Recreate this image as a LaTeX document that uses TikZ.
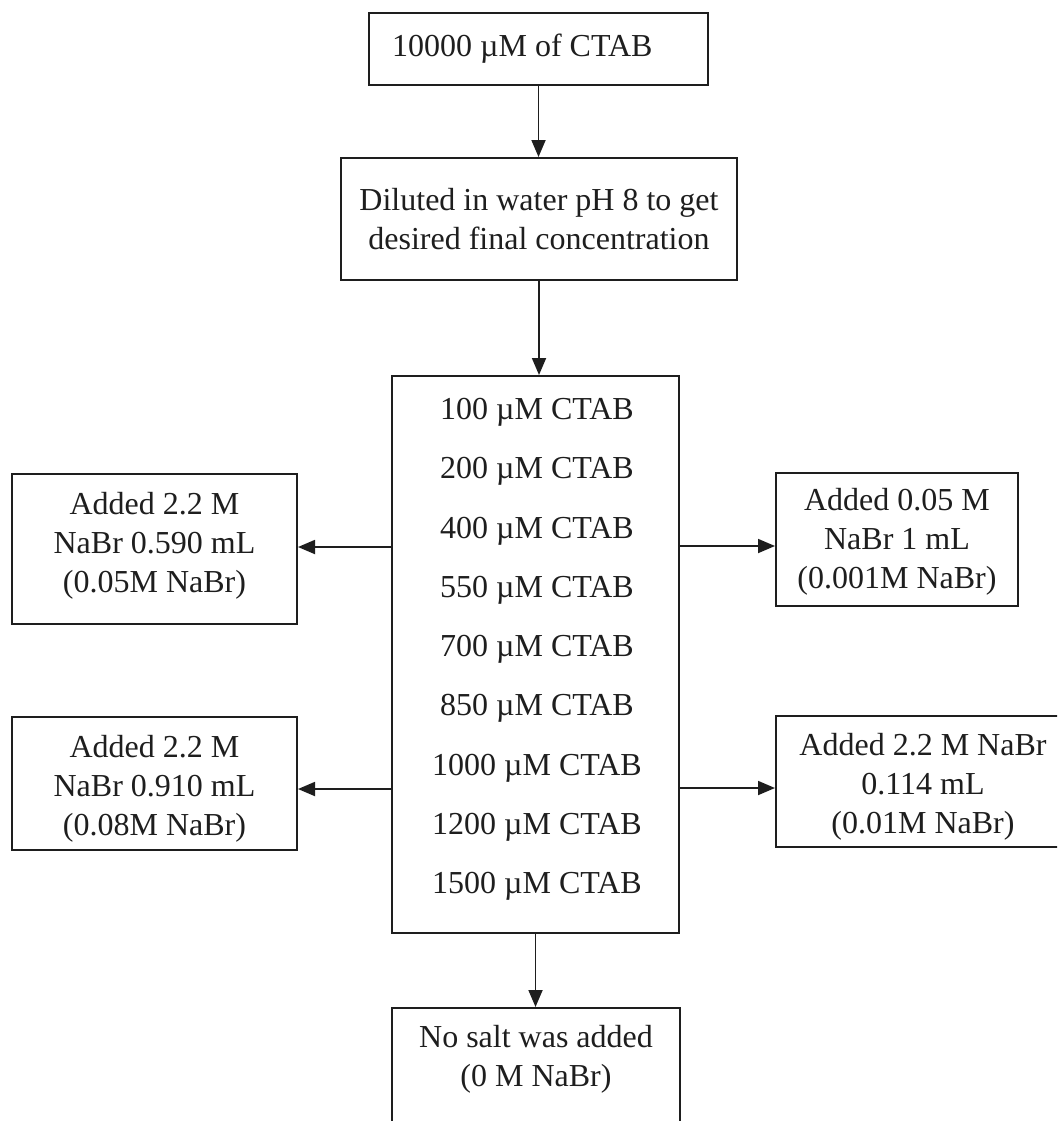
\documentclass[tikz,border=0pt]{standalone}
\usepackage{fontspec}
\setmainfont{Liberation Serif}
\usetikzlibrary{arrows.meta}
\definecolor{ink}{HTML}{1E1E1E}
\tikzset{
  box/.style={draw=ink, line width=2pt, inner sep=0pt, align=center, text=ink,
    font=\fontsize{32}{39}\selectfont},
  txt/.style={inner sep=0pt, align=center, text=ink, font=\fontsize{32}{39}\selectfont},
  arr/.style={draw=ink, line width=1.8pt, -{Triangle[length=17pt,width=14pt]}}
}
\begin{document}
\begin{tikzpicture}[x=1pt,y=-1pt]
\useasboundingbox (0,0) rectangle (1057,1121);
\clip (0,0) rectangle (1057,1121);
\fill[white] (0,0) rectangle (1057,1121);
% top box
\node[box, minimum width=339pt, minimum height=72pt] (top) at (538.5,49) {};
\node[txt, anchor=west] (toptxt) at (392,49) {10000 µM of CTAB};
% dilution box
\node[box, minimum width=396pt, minimum height=122pt] (dil) at (539,219) {Diluted in water pH 8 to get\\desired final concentration};
% middle box
\node[box, minimum width=287pt, minimum height=557pt] (mid) at (535.5,654.5) {};
\node[txt, font=\fontsize{32}{59.25}\selectfont] (midtxt) at (537,649.5) {100 µM CTAB\\200 µM CTAB\\400 µM CTAB\\550 µM CTAB\\700 µM CTAB\\850 µM CTAB\\1000 µM CTAB\\1200 µM CTAB\\1500 µM CTAB};
% left boxes
\node[box, minimum width=285pt, minimum height=150pt] (l1) at (154.5,549) {};
\node[txt] (l1txt) at (154.5,546) {Added 2.2 M\\NaBr 0.590 mL\\(0.05M NaBr)};
\node[box, minimum width=285pt, minimum height=133pt] (l2) at (154.5,783.5) {};
\node[txt] (l2txt) at (154.5,789) {Added 2.2 M\\NaBr 0.910 mL\\(0.08M NaBr)};
% right boxes
\node[box, minimum width=242pt, minimum height=133pt] (r1) at (897,539.5) {};
\node[txt] (r1txt) at (897,542) {Added 0.05 M\\NaBr 1 mL\\(0.001M NaBr)};
\node[box, minimum width=300pt, minimum height=131pt] (r2) at (926,781.5) {};
\node[txt] (r2txt) at (923,787) {Added 2.2 M NaBr\\0.114 mL\\(0.01M NaBr)};
% bottom box
\node[box, minimum width=288pt, minimum height=160pt, anchor=north] (bot) at (536,1007) {};
\node[txt] (bottxt) at (536,1059) {No salt was added\\(0 M NaBr)};
% arrow levels
\coordinate (ya) at (0,547);
\coordinate (yb) at (0,789);
\coordinate (yc) at (0,546);
\coordinate (yd) at (0,788);
% connectors
\draw[arr] (top.south) -- (top.south |- dil.north);
\draw[arr] (dil.south) -- (dil.south |- mid.north);
\draw[arr] (mid.south) -- (mid.south |- bot.north);
\draw[arr] (mid.west |- ya) -- (l1.east |- ya);
\draw[arr] (mid.west |- yb) -- (l2.east |- yb);
\draw[arr] (mid.east |- yc) -- (r1.west |- yc);
\draw[arr] (mid.east |- yd) -- (r2.west |- yd);
\end{tikzpicture}
\end{document}
